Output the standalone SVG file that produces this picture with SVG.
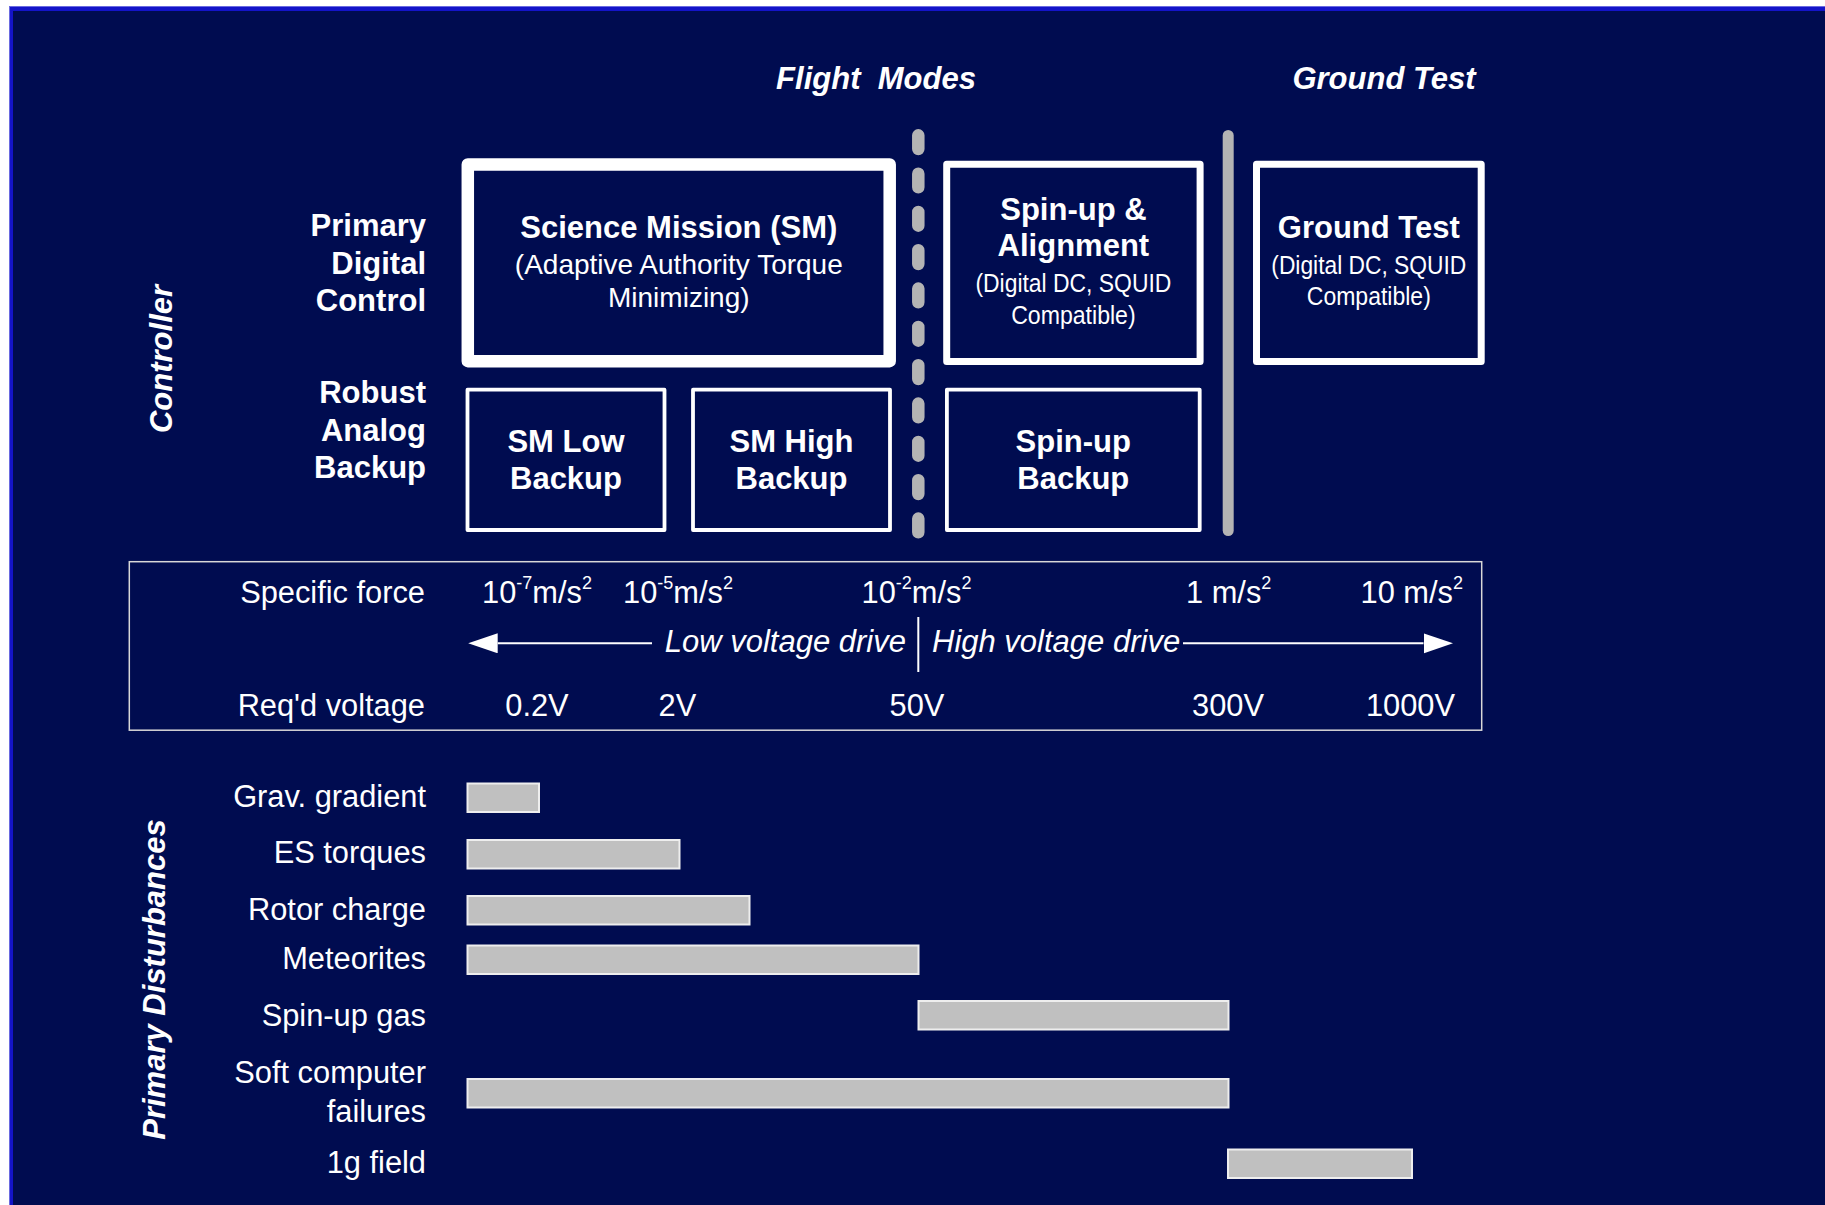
<svg xmlns="http://www.w3.org/2000/svg" width="1825" height="1205" viewBox="0 0 1825 1205">
<defs>
<style>
text{font-family:"Liberation Sans",Arial,sans-serif;fill:#ffffff}
.hdr{font-size:31px;font-weight:bold;font-style:italic}
.b{font-size:31px;font-weight:bold}
.r{font-size:30.8px}
.sub{font-size:28px}
.cond{font-size:26px}
.it{font-size:31px;font-style:italic}
.mid{text-anchor:middle}
.end{text-anchor:end}
.box{fill:none;stroke:#ffffff;stroke-linejoin:round}
.bar{fill:#c0c0c0;stroke:#eeeeee;stroke-width:2}
.sup{font-size:18px}
.gl{fill:none;stroke:#b4b4b4;stroke-linecap:round}
.ax{fill:none;stroke:#ffffff;stroke-width:2}
</style>
<marker id="ah" markerUnits="userSpaceOnUse" markerWidth="32" markerHeight="22" refX="0" refY="10" orient="auto">
<path d="M0 0 L29.5 10 L0 20 Z" fill="#ffffff"/>
</marker>
</defs>

<rect x="0" y="0" width="1825" height="1205" fill="#ffffff"/>
<rect x="9.5" y="6.5" width="1820" height="1205" fill="#1414c8" stroke="#6a6ae0" stroke-width="1"/>
<rect x="13" y="11" width="1812" height="1194" fill="#000c50"/>

<!-- headers -->
<text class="hdr mid" x="876" y="88.5" xml:space="preserve">Flight  Modes</text>
<text class="hdr mid" x="1384" y="88.5">Ground Test</text>
<text class="hdr mid" transform="translate(172 359) rotate(-90)">Controller</text>
<text class="hdr mid" transform="translate(165 979.5) rotate(-90)">Primary Disturbances</text>

<!-- row labels -->
<g id="row-primary">
<text class="b end" x="426" y="236">Primary</text>
<text class="b end" x="426" y="273.5">Digital</text>
<text class="b end" x="426" y="311">Control</text>
</g>
<g id="row-backup">
<text class="b end" x="426" y="403">Robust</text>
<text class="b end" x="426" y="440.5">Analog</text>
<text class="b end" x="426" y="478">Backup</text>
</g>

<!-- separators -->
<path class="gl" d="M918.3 135.3 V532.3" stroke-width="12.5" stroke-dasharray="13.7 24.63"/>
<path class="gl" d="M1228.2 135.5 V530.5" stroke-width="11"/>

<!-- mode nodes -->
<g id="science-mission">
<rect class="box" x="467.8" y="164.5" width="421.9" height="196.7" stroke-width="12.5"/>
<text class="b mid" x="678.8" y="238">Science Mission (SM)</text>
<text class="sub mid" x="678.8" y="273.5">(Adaptive Authority Torque</text>
<text class="sub mid" x="678.8" y="306.5">Minimizing)</text>
</g>
<g id="sm-low-backup">
<rect class="box" x="467.5" y="389.7" width="197" height="140.3" stroke-width="3.8"/>
<text class="b mid" x="566" y="451.5">SM Low</text>
<text class="b mid" x="566" y="488.5">Backup</text>
</g>
<g id="sm-high-backup">
<rect class="box" x="693" y="389.7" width="197" height="140.3" stroke-width="3.8"/>
<text class="b mid" x="791.5" y="451.5">SM High</text>
<text class="b mid" x="791.5" y="488.5">Backup</text>
</g>
<g id="spinup-alignment">
<rect class="box" x="946.7" y="164.2" width="253.4" height="197.3" stroke-width="7"/>
<text class="b mid" x="1073.4" y="219.5">Spin-up &amp;</text>
<text class="b mid" x="1073.4" y="255.5">Alignment</text>
<text class="cond mid" x="1073.4" y="292" textLength="196" lengthAdjust="spacingAndGlyphs">(Digital DC, SQUID</text>
<text class="cond mid" x="1073.4" y="324" textLength="124.5" lengthAdjust="spacingAndGlyphs">Compatible)</text>
</g>
<g id="spinup-backup">
<rect class="box" x="946.9" y="389.7" width="252.8" height="140.3" stroke-width="3.8"/>
<text class="b mid" x="1073.3" y="451.5">Spin-up</text>
<text class="b mid" x="1073.3" y="488.5">Backup</text>
</g>
<g id="ground-test">
<rect class="box" x="1256.5" y="164.2" width="224.7" height="197.3" stroke-width="7"/>
<text class="b mid" x="1368.8" y="237.7">Ground Test</text>
<text class="cond mid" x="1368.8" y="273.5" textLength="195" lengthAdjust="spacingAndGlyphs">(Digital DC, SQUID</text>
<text class="cond mid" x="1368.8" y="305" textLength="124" lengthAdjust="spacingAndGlyphs">Compatible)</text>
</g>

<!-- scale panel -->
<g id="scale">
<rect x="129.3" y="561.7" width="1352.4" height="168.5" fill="none" stroke="#d8d8d8" stroke-width="1.5"/>
<text class="r end" x="425" y="602.7">Specific force</text>
<text class="r end" x="425" y="716">Req'd voltage</text>
<text class="r" x="482" y="602.7">10<tspan class="sup" dy="-14">-7</tspan><tspan dy="14">m/s</tspan><tspan class="sup" dy="-14">2</tspan></text>
<text class="r" x="623" y="602.7">10<tspan class="sup" dy="-14">-5</tspan><tspan dy="14">m/s</tspan><tspan class="sup" dy="-14">2</tspan></text>
<text class="r" x="861.5" y="602.7">10<tspan class="sup" dy="-14">-2</tspan><tspan dy="14">m/s</tspan><tspan class="sup" dy="-14">2</tspan></text>
<text class="r" x="1186" y="602.7">1 m/s<tspan class="sup" dy="-14">2</tspan></text>
<text class="r" x="1360.5" y="602.7">10 m/s<tspan class="sup" dy="-14">2</tspan></text>
<text class="r mid" x="537" y="716">0.2V</text>
<text class="r mid" x="677.4" y="716">2V</text>
<text class="r mid" x="917" y="716">50V</text>
<text class="r mid" x="1228" y="716">300V</text>
<text class="r mid" x="1410.5" y="716">1000V</text>
<text class="it end" x="906" y="652">Low voltage drive</text>
<text class="it" x="932" y="652">High voltage drive</text>
</g>

<g id="connectors">
<path class="ax" d="M652 643.3 H497.7" marker-end="url(#ah)"/>
<path class="ax" d="M1183 643.3 H1423.5" marker-end="url(#ah)"/>
<path class="ax" d="M918.3 617 V672"/>
</g>

<!-- disturbances -->
<g id="grav-gradient">
<text class="r end" x="426" y="806.5">Grav. gradient</text>
<rect class="bar" x="467.5" y="783.5" width="71.5" height="28.5"/>
</g>
<g id="es-torques">
<text class="r end" x="426" y="863">ES torques</text>
<rect class="bar" x="467.5" y="840" width="212" height="28.5"/>
</g>
<g id="rotor-charge">
<text class="r end" x="426" y="920">Rotor charge</text>
<rect class="bar" x="467.5" y="896" width="282" height="28.5"/>
</g>
<g id="meteorites">
<text class="r end" x="426" y="968.5">Meteorites</text>
<rect class="bar" x="467.5" y="945.5" width="451" height="28.5"/>
</g>
<g id="spinup-gas">
<text class="r end" x="426" y="1025.5">Spin-up gas</text>
<rect class="bar" x="918.5" y="1001" width="310" height="28.5"/>
</g>
<g id="soft-failures">
<text class="r end" x="426" y="1083">Soft computer</text>
<text class="r end" x="426" y="1121.5">failures</text>
<rect class="bar" x="467.5" y="1079" width="761" height="28.5"/>
</g>
<g id="one-g-field">
<text class="r end" x="426" y="1172.5">1g field</text>
<rect class="bar" x="1228" y="1149.5" width="184" height="28.5"/>
</g>
</svg>
